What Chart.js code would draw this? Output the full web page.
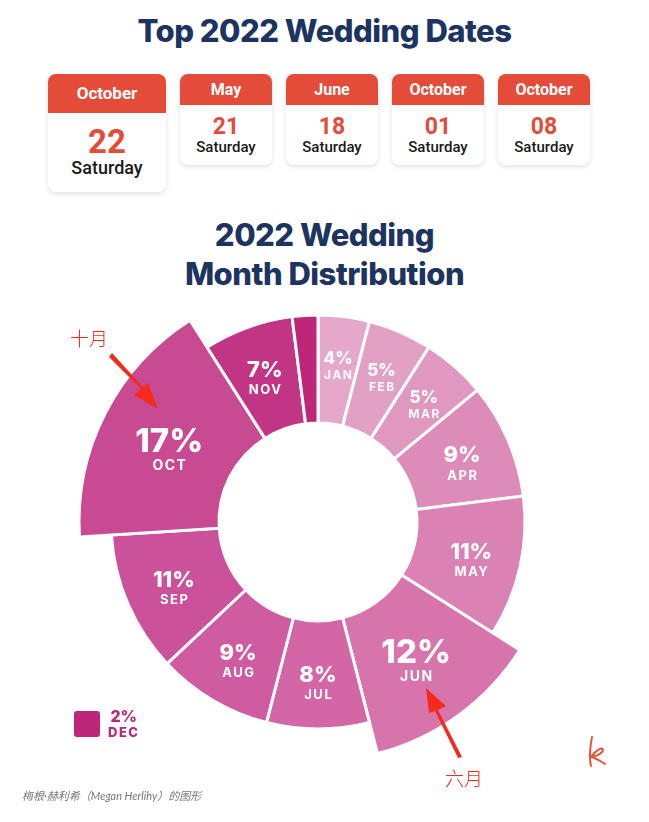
<!DOCTYPE html>
<html>
<head>
<meta charset="utf-8">
<script src="https://cdn.jsdelivr.net/npm/chart.js@4"></script>
<style>
    html, body { margin: 0; padding: 0; background: #fff; }
    body { width: 649px; height: 822px; position: relative; overflow: hidden; font-family: Inter, Roboto, sans-serif; }
    .title { position: absolute; left: 0; width: 649px; text-align: center; color: #1d3461; font-weight: 800; letter-spacing: -0.5px; }
    .card { position: absolute; background: #fff; border-radius: 8px; box-shadow: 0 2px 5px rgba(0,0,0,0.12); overflow: hidden; text-align: center; font-family: Roboto, sans-serif; }
    .card .head { background: #e44c39; color: #fff; font-weight: 700; }
    .card .num { color: #e44c39; font-weight: 700; }
    .card .day { color: #1a1a1a; font-weight: 500; }
    #chartWrap { position: absolute; left: 58px; top: 262px; width: 520px; height: 520px; }
    .note { position: absolute; color: #f52a1c; font-family: "Noto Sans CJK SC", sans-serif; font-weight: 300; font-size: 19px; }
    .caption { position: absolute; left: 22px; top: 787px; color: #777; font-style: italic; font-size: 11px; font-family: Lato, "Noto Sans CJK SC", sans-serif; }
    .legend-box { position: absolute; left: 74px; top: 711px; width: 26px; height: 26px; border-radius: 3px; background: #be2679; }
    .legend-txt { position: absolute; left: 108px; top: 708px; color: #be2679; font-weight: 800; text-align: center; line-height: 1; }
</style>
</head>
<body>
<div class="title" style="top:12px;font-size:31px;">Top 2022 Wedding Dates</div>
<div id="cards"></div>
<div class="title" style="top:215px;font-size:31px;line-height:39px;">2022 Wedding<br>Month Distribution</div>

<div id="chartWrap"><canvas id="monthChart" width="520" height="520"></canvas></div>

<div class="legend-box"></div>
<div class="legend-txt"><div id="decPct" style="font-size:16px;"></div><div id="decName" style="font-size:13px;letter-spacing:1.5px;margin-top:2px;"></div></div>

<div class="note" style="left:70px;top:324px;">十月</div>
<div class="note" style="left:445px;top:764px;">六月</div>
<svg width="649" height="822" style="position:absolute;left:0;top:0;pointer-events:none;">
    <polygon points="109,357 141,389 134,395 158,409 148,383 143,387 112,353" fill="#f52a1c"/>
    <polygon points="462,757 438,710 446,706 426,688 429,713 435,711 458,758" fill="#f52a1c"/>
    <path d="M592,737 C590,748 589,758 591,766 M591,757 C596,750 603,746 603,750 C602,754 596,756 592,757 C597,759 601,761 605,764" stroke="#e0573a" stroke-width="2" fill="none" stroke-linecap="round"/>
</svg>
<div class="caption">梅根·赫利希（Megan Herlihy）的图形</div>

<script>
// Top dates
const dateMonths = ['October', 'May', 'June', 'October', 'October'];
const dateDays = ['22', '21', '18', '01', '08'];
const dateWeekdays = ['Saturday', 'Saturday', 'Saturday', 'Saturday', 'Saturday'];

// Month distribution (percent)
const months = ['JAN', 'FEB', 'MAR', 'APR', 'MAY', 'JUN', 'JUL', 'AUG', 'SEP', 'OCT', 'NOV', 'DEC'];
const shares = [4, 5, 5, 9, 11, 12, 8, 9, 11, 17, 7, 2];
const highlighted = ['JUN', 'OCT'];
const sliceColors = ['#e6a8ca', '#e3a0c5', '#e097c0', '#dd8cba', '#da82b4', '#d774ac', '#d367a6', '#cf5ca0', '#ca519a', '#c74a93', '#c23584', '#be2679'];

function buildCards() {
    const wrap = document.getElementById('cards');
    const lefts = [48, 180, 286, 392, 498];
    dateMonths.forEach((m, i) => {
        const big = i === 0;
        const card = document.createElement('div');
        card.className = 'card';
        card.style.left = lefts[i] + 'px';
        card.style.top = '74px';
        card.style.width = (big ? 118 : 92) + 'px';
        card.style.height = (big ? 118 : 91) + 'px';
        card.innerHTML = `
            <div class="head" style="height:${big ? 39 : 31}px;line-height:${big ? 39 : 31}px;font-size:${big ? 17 : 16}px;">${m}</div>
            <div class="num" style="font-size:${big ? 33 : 23}px;line-height:1;margin-top:${big ? 12 : 10}px;">${dateDays[i]}</div>
            <div class="day" style="font-size:${big ? 18 : 15}px;line-height:1;margin-top:${big ? 1 : 2}px;">${dateWeekdays[i]}</div>
        `;
        wrap.appendChild(card);
    });
}

const innerR = 99;
const outerR = 207;
const bigR = 239;

// Push the highlighted months further out
const emphasisPlugin = {
    id: 'emphasis',
    afterDatasetsUpdate(chart) {
        const meta = chart.getDatasetMeta(0);
        meta.data.forEach((arc, i) => {
            arc.innerRadius = innerR;
            arc.outerRadius = highlighted.includes(months[i]) ? bigR : outerR;
        });
    }
};

// Labels inside the slices
const sliceLabels = {
    id: 'sliceLabels',
    afterDatasetsDraw(chart) {
        const ctx = chart.ctx;
        const meta = chart.getDatasetMeta(0);
        ctx.save();
        ctx.fillStyle = '#fff';
        ctx.textAlign = 'center';
        ctx.textBaseline = 'middle';
        meta.data.forEach((arc, i) => {
            if (months[i] === 'DEC') return;
            const v = shares[i];
            const big = highlighted.includes(months[i]);
            const mid = (arc.startAngle + arc.endAngle) / 2;
            const r = big ? 167 : (v < 6 ? 160 : 157);
            const x = arc.x + Math.cos(mid) * r;
            const y = arc.y + Math.sin(mid) * r - 4;
            const pctSize = big ? 33 : (v < 6 ? 17 : 22);
            const nameSize = big ? 14 : (v < 6 ? 12 : 13);
            const gap = big ? 24 : (v < 6 ? 16 : 20);
            ctx.font = `800 ${pctSize}px Inter, sans-serif`;
            ctx.fillText(v + '%', x, y);
            ctx.font = `700 ${nameSize}px Inter, sans-serif`;
            ctx.letterSpacing = '1.5px';
            ctx.fillText(months[i], x + 0.75, y + gap);
            ctx.letterSpacing = '0px';
        });
        ctx.restore();
    }
};

function initializeMonthChart() {
    const canvas = document.getElementById('monthChart');
    if (!canvas) {
        console.error('Month chart canvas not found');
        return;
    }
    new Chart(canvas.getContext('2d'), {
        type: 'doughnut',
        data: {
            labels: months,
            datasets: [{
                data: shares,
                backgroundColor: sliceColors,
                borderColor: '#fff',
                borderWidth: 3,
                borderJoinStyle: 'miter'
            }]
        },
        options: {
            responsive: false,
            animation: false,
            radius: outerR,
            cutout: (innerR / outerR * 100) + '%',
            layout: { padding: 0 },
            plugins: {
                legend: { display: false },
                tooltip: { enabled: false }
            }
        },
        plugins: [emphasisPlugin, sliceLabels]
    });
}

buildCards();
document.getElementById('decPct').textContent = shares[months.indexOf('DEC')] + '%';
document.getElementById('decName').textContent = 'DEC';
initializeMonthChart();
</script>
</body>
</html>
